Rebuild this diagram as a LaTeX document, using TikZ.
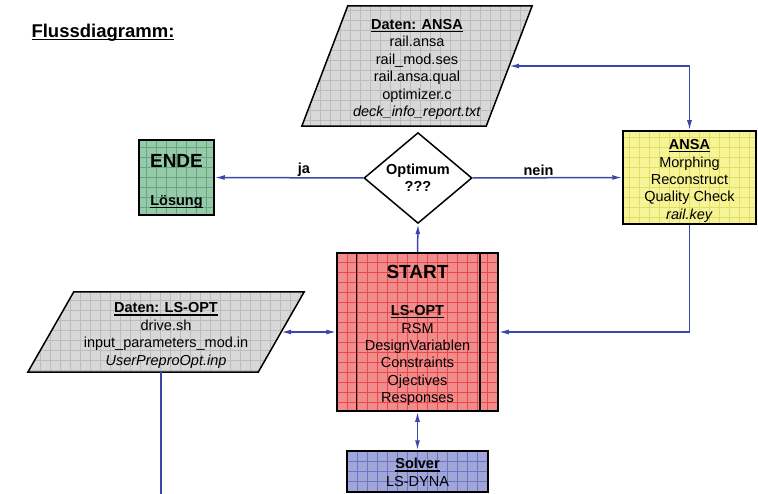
\documentclass[tikz,border=0pt]{standalone}
\usepackage{fontspec}
\setmainfont{Liberation Sans}
\usetikzlibrary{arrows.meta,shapes.geometric,backgrounds,calc}

\definecolor{linienblau}{RGB}{58,70,168}
\definecolor{grau}{RGB}{216,216,216}
\definecolor{graugitter}{RGB}{188,188,188}
\definecolor{gruen}{RGB}{150,202,170}
\definecolor{gruengitter}{RGB}{100,168,128}
\definecolor{gelb}{RGB}{246,244,150}
\definecolor{gelbgitter}{RGB}{226,222,100}
\definecolor{rot}{RGB}{241,140,140}
\definecolor{rotgitter}{RGB}{236,72,72}
\definecolor{blau}{RGB}{160,166,216}
\definecolor{blaugitter}{RGB}{108,118,200}

\newcommand{\ulbox}[1]{\setbox0\hbox{#1}\rlap{\rule[-2.6pt]{\wd0}{1.1pt}}\box0}

\tikzset{
  gitter/.style={path picture={\draw[#1,line width=0.4pt] (path picture bounding box.south west) grid[step=10pt] (path picture bounding box.north east);}},
  kasten/.style={draw,line width=1.5pt,inner sep=0pt},
  inhalt/.style={align=center,inner sep=0pt,font=\fontsize{14.5}{17.4}\selectfont},
  pfeil/.style={draw=linienblau,line width=1.5pt,>={Latex[length=10pt,width=5pt]}},
  marke/.style={font=\fontsize{14.5}{17.4}\selectfont\bfseries,above=1pt,inner sep=0pt}
}

\begin{document}
\begin{tikzpicture}[x=1pt,y=-1pt]
  \useasboundingbox (0,0) rectangle (758,494);

  \node[anchor=base west,font=\fontsize{18.5}{20}\selectfont\bfseries] (titel) at (28,37.7) {\ulbox{Flussdiagramm:}};

  % Daten (Parallelogramme)
  \node[minimum width=184pt,minimum height=120pt,inner sep=0pt] (dansa) at (417,66) {};
  \node[minimum width=230pt,minimum height=80pt,inner sep=0pt] (dlsopt) at (166,332) {};
  \path[fill=grau,draw,line width=1.5pt,gitter=graugitter] ([xshift=23pt]dansa.north west) -- ([xshift=23pt]dansa.north east)
    -- ([xshift=-23pt]dansa.south east) -- ([xshift=-23pt]dansa.south west) -- cycle;
  \path[fill=grau,draw,line width=1.5pt,gitter=graugitter] ([xshift=23pt]dlsopt.north west) -- ([xshift=23pt]dlsopt.north east)
    -- ([xshift=-23pt]dlsopt.south east) -- ([xshift=-23pt]dlsopt.south west) -- cycle;
  \node[inhalt] (dansatext) at ([yshift=-3.5pt]dansa.center)
    {\textbf{\ulbox{Daten: ANSA}}\\rail.ansa\\rail\_mod.ses\\rail.ansa.qual\\optimizer.c\\\textit{deck\_info\_report.txt}};
  \node[inhalt] (dlsopttext) at ([yshift=-3.5pt]dlsopt.center)
    {\textbf{\ulbox{Daten: LS-OPT}}\\drive.sh\\input\_parameters\_mod.in\\\textit{UserPreproOpt.inp}};

  % Kaesten
  \node[kasten,fill=gruen,gitter=gruengitter,minimum width=75pt,minimum height=75pt] (ende) at (176.5,177.5) {};
  \node[inhalt] (endetext) at ([yshift=-4pt]ende.center)
    {\textbf{\fontsize{19}{19}\selectfont ENDE}\\[20.9pt]\textbf{\ulbox{Lösung}}};
  \node[kasten,diamond,fill=white,align=center,minimum width=108pt,minimum height=90pt,font=\fontsize{14.5}{16.7}\selectfont\bfseries] (optimum) at (418,178)
    {Optimum\\???};
  \node[kasten,fill=gelb,gitter=gelbgitter,minimum width=133pt,minimum height=93pt] (ansa) at (689.5,177.5) {};
  \node[inhalt] (ansatext) at ([yshift=-3.5pt]ansa.center)
    {\textbf{\ulbox{ANSA}}\\Morphing\\Reconstruct\\Quality Check\\\textit{rail.key}};
  \node[kasten,fill=rot,gitter=rotgitter,minimum width=161pt,minimum height=158pt] (start) at (417.5,332) {};
  \draw[line width=1.5pt] ([xshift=20pt]start.north west) -- ([xshift=20pt]start.south west);
  \draw[line width=1.5pt] ([xshift=-19pt]start.north east) -- ([xshift=-19pt]start.south east);
  \node[inhalt] (starttext) at ([yshift=-3.5pt]start.center)
    {\textbf{\fontsize{19}{19}\selectfont START}\\[19.9pt]\textbf{\ulbox{LS-OPT}}\\RSM\\DesignVariablen\\Constraints\\Ojectives\\Responses};
  \node[kasten,fill=blau,gitter=blaugitter,minimum width=141pt,minimum height=41pt] (solver) at (417.5,471.5) {};
  \node[inhalt] (solvertext) at ([yshift=-1pt]solver.center) {\textbf{\ulbox{Solver}}\\LS-DYNA};

  \coordinate (ausgang) at (161,494);

  % Verbindungen
  \draw[pfeil,->] (optimum.west) -- node[marke,pos=0.4] (ja) {ja} (ende.east);
  \draw[pfeil,->] (optimum.east) -- node[marke,pos=0.44] (nein) {nein} (ansa.west);
  \draw[pfeil,<->] (dansa.east) -| (ansa.north);
  \draw[pfeil,->] (ansa.south) |- (start.east);
  \draw[pfeil,->] (start.north) -- (optimum.south);
  \draw[pfeil,<->] (dlsopt.east) -- (start.west);
  \draw[pfeil,<->] (start.south) -- (solver.north);
  \draw[pfeil] (dlsopt.south -| ausgang) -- (ausgang);
\end{tikzpicture}
\end{document}
